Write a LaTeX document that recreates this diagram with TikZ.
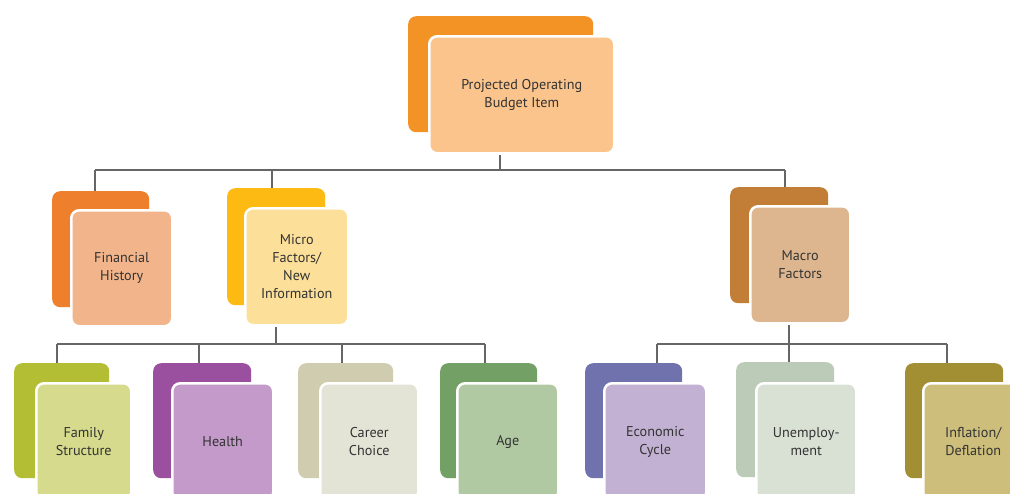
\documentclass[tikz,border=0pt]{standalone}
\usepackage{fontspec}
\setmainfont{PT Sans}
\definecolor{txt}{HTML}{333333}
\definecolor{linec}{HTML}{666666}
\definecolor{topB}{HTML}{F39325}
\definecolor{topF}{HTML}{FAC48C}
\definecolor{finB}{HTML}{EE7F2D}
\definecolor{finF}{HTML}{F2B48A}
\definecolor{micB}{HTML}{FDBA13}
\definecolor{micF}{HTML}{FCDF98}
\definecolor{macB}{HTML}{C27E37}
\definecolor{macF}{HTML}{DDB68F}
\definecolor{famB}{HTML}{B3BE35}
\definecolor{famF}{HTML}{D5DA8C}
\definecolor{heaB}{HTML}{9B4F9F}
\definecolor{heaF}{HTML}{C49ACA}
\definecolor{carB}{HTML}{CFCCB0}
\definecolor{carF}{HTML}{E3E4D6}
\definecolor{ageB}{HTML}{73A065}
\definecolor{ageF}{HTML}{B1C9A2}
\definecolor{ecoB}{HTML}{7072AE}
\definecolor{ecoF}{HTML}{C2B1D2}
\definecolor{uneB}{HTML}{BCCBB8}
\definecolor{uneF}{HTML}{D9E1D5}
\definecolor{infB}{HTML}{A28F34}
\definecolor{infF}{HTML}{CDBE7B}
\begin{document}
\begin{tikzpicture}[x=1pt,y=-1pt,
  back/.style={rounded corners=8pt, anchor=north west, inner sep=0pt},
  front/.style={rounded corners=8pt, draw=white, line width=2.5pt, anchor=north west,
    inner sep=0pt, align=center, text=txt, font=\fontsize{14.2}{18}\selectfont},
  conn/.style={draw=linec, line width=1.3pt}]
\useasboundingbox (0,0) rectangle (1010,493);
\clip (0,0) rectangle (1010,493);
\fill[white] (0,0) rectangle (1010,493);
% top
\node[back, fill=topB, minimum width=185pt, minimum height=116pt] (topb) at (408,16) {};
\node[front, fill=topF, minimum width=185pt, minimum height=117pt] (top) at (428,35) {Projected Operating\\Budget Item};
% level 2
\node[back, fill=finB, minimum width=97pt, minimum height=116pt] (finb) at (52,191) {};
\node[front, fill=finF, minimum width=101pt, minimum height=116pt] (fin) at (70,209) {Financial\\History};
\node[back, fill=micB, minimum width=98pt, minimum height=117pt] (micb) at (227,188) {};
\node[front, fill=micF, minimum width=103pt, minimum height=117pt] (mic) at (244,207) {Micro\\Factors/\\New\\Information};
\node[back, fill=macB, minimum width=98pt, minimum height=116pt] (macb) at (730,187) {};
\node[front, fill=macF, minimum width=100pt, minimum height=117pt] (mac) at (749,205) {Macro\\Factors};
% level 3
\node[back, fill=famB, minimum width=95pt, minimum height=115pt] (famb) at (14,363) {};
\node[front, fill=famF, minimum width=95pt, minimum height=117pt] (fam) at (35,382) {Family\\Structure};
\node[back, fill=heaB, minimum width=98pt, minimum height=115pt] (heab) at (153,363) {};
\node[front, fill=heaF, minimum width=101pt, minimum height=117pt] (hea) at (171,382) {Health};
\node[back, fill=carB, minimum width=95pt, minimum height=115pt] (carb) at (298,363) {};
\node[front, fill=carF, minimum width=98pt, minimum height=117pt] (car) at (319,382) {Career\\Choice};
\node[back, fill=ageB, minimum width=97pt, minimum height=115pt] (ageb) at (440,363) {};
\node[front, fill=ageF, minimum width=101pt, minimum height=117pt] (age) at (456,382) {Age};
\node[back, fill=ecoB, minimum width=97pt, minimum height=115pt] (ecob) at (585,363) {};
\node[front, fill=ecoF, minimum width=102pt, minimum height=117pt] (eco) at (603,382) {Economic\\Cycle};
\node[back, fill=uneB, minimum width=98pt, minimum height=115pt] (uneb) at (736,362) {};
\node[front, fill=uneF, minimum width=100pt, minimum height=117pt] (une) at (755,382) {Unemploy-\\ment};
\node[back, fill=infB, minimum width=98pt, minimum height=115pt] (infb) at (905,363) {};
\node[front, fill=infF, minimum width=100pt, minimum height=117pt] (inf) at (922,382) {Inflation/\\Deflation};
% connectors level 1-2
\coordinate (h0) at (500,170);
\coordinate (h1) at (95,170);
\coordinate (h2) at (272,170);
\coordinate (h3) at (785,170);
\draw[conn] (top.south -| h0) -- (h0);
\draw[conn] (h1) -- (h3);
\draw[conn] (h1) -- (finb.north -| h1);
\draw[conn] (h2) -- (micb.north -| h2);
\draw[conn] (h3) -- (macb.north -| h3);
% connectors micro
\coordinate (m0) at (276,344);
\coordinate (m1) at (57,344);
\coordinate (m2) at (199,344);
\coordinate (m3) at (342,344);
\coordinate (m4) at (485,344);
\draw[conn] (mic.south -| m0) -- (m0);
\draw[conn] (m1) -- (m4);
\draw[conn] (m1) -- (famb.north -| m1);
\draw[conn] (m2) -- (heab.north -| m2);
\draw[conn] (m3) -- (carb.north -| m3);
\draw[conn] (m4) -- (ageb.north -| m4);
% connectors macro
\coordinate (k0) at (789,344);
\coordinate (k1) at (657,344);
\coordinate (k3) at (947,344);
\draw[conn] (mac.south -| k0) -- (k0);
\draw[conn] (k1) -- (k3);
\draw[conn] (k1) -- (ecob.north -| k1);
\draw[conn] (k0) -- (uneb.north -| k0);
\draw[conn] (k3) -- (infb.north -| k3);
\end{tikzpicture}
\end{document}
